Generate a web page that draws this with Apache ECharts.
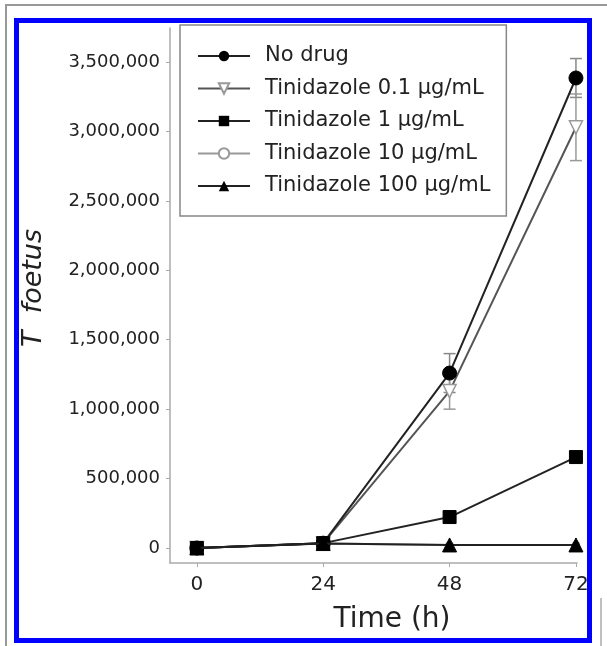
<!DOCTYPE html>
<html>
<head>
<meta charset="utf-8">
<script src="https://cdn.jsdelivr.net/npm/echarts@6/dist/echarts.min.js"></script>
<style>
html,body{margin:0;padding:0;background:#fff;}
#chart{width:607px;height:646px;}
</style>
</head>
<body>
<div id="chart"></div>
<script>
// ---- data ----
var times = [0, 24, 48, 72];
var seriesNames = ['No drug', 'Tinidazole 0.1 \u03bcg/mL', 'Tinidazole 1 \u03bcg/mL', 'Tinidazole 10 \u03bcg/mL', 'Tinidazole 100 \u03bcg/mL'];
var noDrug = [0, 35000, 1260000, 3385000];
var noDrugErr = [0, 0, 140000, 140000];
var tin01 = [0, 35000, 1130000, 3030000];
var tin01Err = [0, 0, 130000, 240000];
var tin1 = [0, 35000, 223000, 655000];
var tin10 = [0, 32000, 22000, 22000];
var tin100 = [0, 32000, 22000, 22000];
var yTicks = [0, 500000, 1000000, 1500000, 2000000, 2500000, 3000000, 3500000];
var xTicks = [0, 24, 48, 72];

function pairs(vals) { return times.map(function (t, i) { return [t, vals[i]]; }); }
function errData(vals, errs) {
  var out = [];
  times.forEach(function (t, i) { if (errs[i] > 0) out.push([t, vals[i], errs[i]]); });
  return out;
}
function fmt(v) { return v.toLocaleString('en-US'); }

var chart = echarts.init(document.getElementById('chart'), null, {renderer: 'canvas'});
var font = 'DejaVu Sans';

function errSeries(vals, errs, color) {
  return {
    type: 'custom', silent: true, z: 1,
    data: errData(vals, errs),
    renderItem: function (params, api) {
      var x = api.value(0), v = api.value(1), e = api.value(2);
      var t = api.coord([x, v + e]), b = api.coord([x, v - e]);
      var w = 6, st = {stroke: color, lineWidth: 1.5};
      return {type: 'group', children: [
        {type: 'line', shape: {x1: t[0], y1: t[1], x2: b[0], y2: b[1]}, style: st},
        {type: 'line', shape: {x1: t[0] - w, y1: t[1], x2: t[0] + w, y2: t[1]}, style: st},
        {type: 'line', shape: {x1: b[0] - w, y1: b[1], x2: b[0] + w, y2: b[1]}, style: st}
      ]};
    }
  };
}

var option = {
  animation: false,
  backgroundColor: '#fff',
  grid: {left: 170, right: 30, top: 28, bottom: 83, containLabel: false},
  xAxis: {
    type: 'value', min: -5.1, max: 72.2,
    axisLine: {show: true, onZero: false, lineStyle: {color: '#aaa', width: 1.5}},
    axisTick: {show: true, length: 4, lineStyle: {color: '#aaa'}, customValues: xTicks},
    axisLabel: {customValues: xTicks, fontFamily: font, fontSize: 20, color: '#222', margin: 12},
    splitLine: {show: false}
  },
  yAxis: {
    type: 'value', min: -108000, max: 3745000,
    axisLine: {show: true, onZero: false, lineStyle: {color: '#aaa', width: 1.5}},
    axisTick: {show: true, length: 4, lineStyle: {color: '#aaa'}, customValues: yTicks},
    axisLabel: {customValues: yTicks, fontFamily: font, fontSize: 18, color: '#222', margin: 10,
      formatter: function (v) { return fmt(v); }},
    splitLine: {show: false}
  },
  legend: {
    data: seriesNames,
    orient: 'vertical', left: 180, top: 25,
    padding: [20, 16, 19, 17],
    itemGap: 10.5, itemWidth: 52, itemHeight: 13,
    borderColor: '#888', borderWidth: 1.5, backgroundColor: '#fff',
    textStyle: {fontFamily: font, fontSize: 21, color: '#222', lineHeight: 22, padding: [0, 0, 0, 10]}
  },
  graphic: [
    {type: 'line', shape: {x1: 5, y1: 5, x2: 607, y2: 5}, style: {stroke: '#999', lineWidth: 2}, z: 100},
    {type: 'line', shape: {x1: 6, y1: 5, x2: 6, y2: 646}, style: {stroke: '#999', lineWidth: 2}, z: 100},
    {type: 'line', shape: {x1: 601, y1: 598, x2: 601, y2: 646}, style: {stroke: '#aaa', lineWidth: 1.5}, z: 100},
    {type: 'rect', shape: {x: 16.5, y: 20.5, width: 573, height: 620}, style: {fill: 'none', stroke: '#0000ff', lineWidth: 5}, z: 100},
    {type: 'text', x: 392, y: 620, style: {text: 'Time (h)', font: '28px "DejaVu Sans"', fill: '#222', textAlign: 'center', textVerticalAlign: 'middle'}},
    {type: 'text', x: 34, y: 288, rotation: Math.PI / 2, style: {text: 'T  foetus', font: 'italic 27px "DejaVu Sans"', fill: '#222', textAlign: 'center', textVerticalAlign: 'middle'}}
  ],
  series: [
    errSeries(noDrug, noDrugErr, '#888'),
    errSeries(tin01, tin01Err, '#999'),
    {name: seriesNames[0], type: 'line', data: pairs(noDrug), z: 5,
      symbol: 'circle', symbolSize: 14,
      lineStyle: {color: '#222', width: 2}, itemStyle: {color: '#000', borderColor: '#000'}},
    {name: seriesNames[1], type: 'line', data: pairs(tin01), z: 4,
      symbol: 'triangle', symbolRotate: 180, symbolSize: 13,
      lineStyle: {color: '#555', width: 2}, itemStyle: {color: '#fff', borderColor: '#999', borderWidth: 1.5}},
    {name: seriesNames[2], type: 'line', data: pairs(tin1), z: 5,
      symbol: 'rect', symbolSize: 13,
      lineStyle: {color: '#222', width: 2}, itemStyle: {color: '#000', borderColor: '#000'}},
    {name: seriesNames[3], type: 'line', data: pairs(tin10), z: 3,
      symbol: 'circle', symbolSize: 7,
      lineStyle: {color: '#999', width: 2}, itemStyle: {color: '#fff', borderColor: '#999', borderWidth: 1.5}},
    {name: seriesNames[4], type: 'line', data: pairs(tin100), z: 6,
      symbol: 'triangle', symbolSize: 14,
      lineStyle: {color: '#222', width: 2}, itemStyle: {color: '#000', borderColor: '#000'}}
  ]
};
chart.setOption(option);
</script>
</body>
</html>
